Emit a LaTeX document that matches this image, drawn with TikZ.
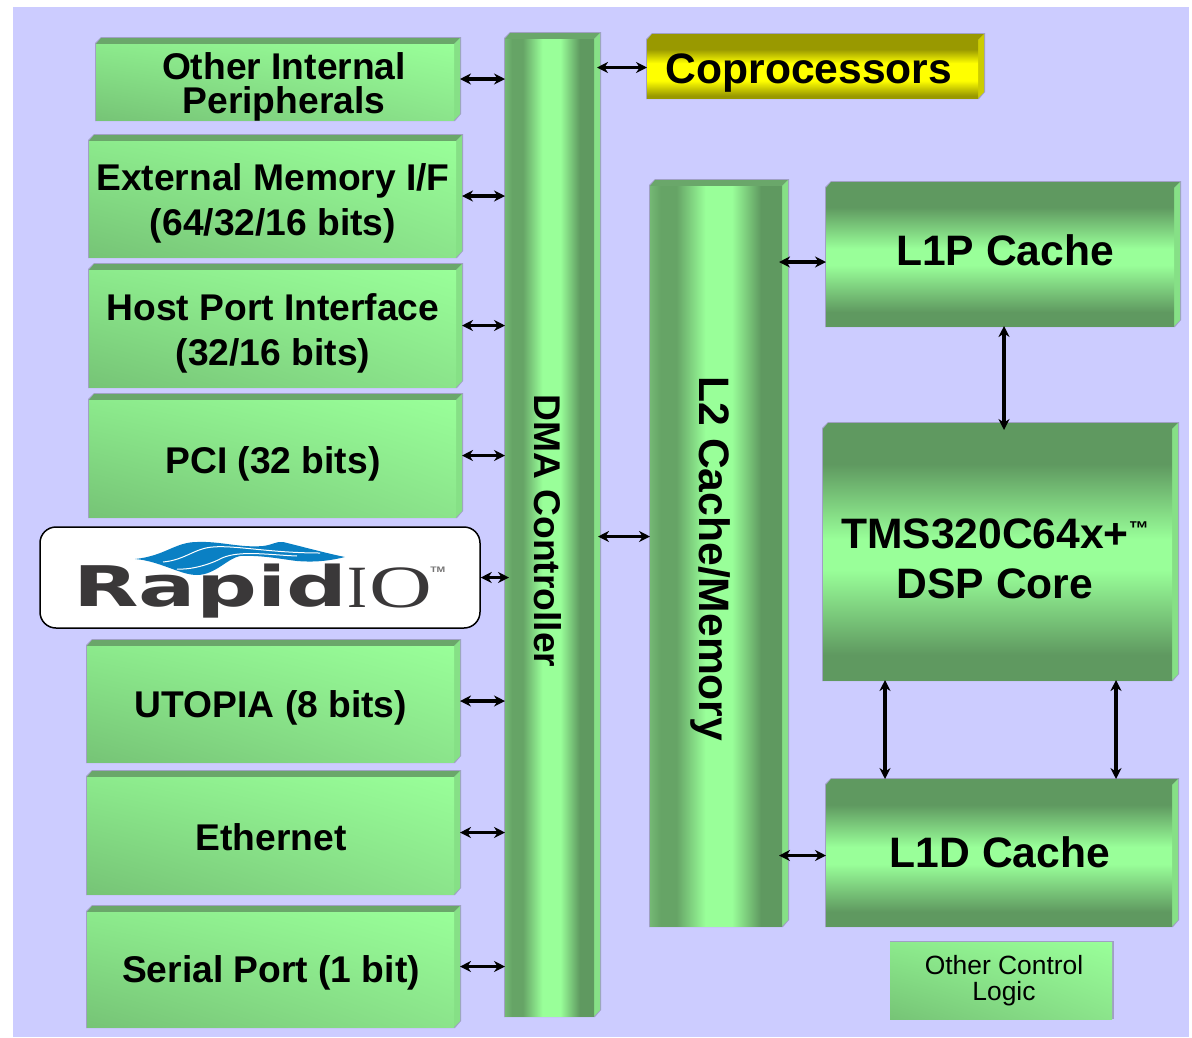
\documentclass[tikz,border=0pt]{standalone}
\usepackage{fontspec}
\setmainfont{Liberation Sans}
\newfontfamily\logosans{DejaVu Sans}
\newfontfamily\logoserif{Liberation Serif}
\usetikzlibrary{arrows.meta,fit,shadings}
\definecolor{bgc}{HTML}{CCCCFF}
\definecolor{gdk}{HTML}{5F9960}
\definecolor{glt}{HTML}{99FF99}
\definecolor{gedge}{HTML}{74B874}
\definecolor{gpdk}{HTML}{66A466}
\definecolor{gtop}{HTML}{6AA76A}
\definecolor{gside}{HTML}{86E086}
\definecolor{gll}{HTML}{76C476}
\definecolor{gul}{HTML}{8CEA8C}
\definecolor{glr}{HTML}{8BE48B}
\definecolor{ydk}{HTML}{999900}
\definecolor{ylt}{HTML}{FFFF00}
\definecolor{yside}{HTML}{CCCC00}
\definecolor{shadowc}{HTML}{A0A0C4}
\definecolor{rdark}{HTML}{3A3839}
\definecolor{rblue}{HTML}{0A80C4}
\pgfdeclareverticalshading{gband}{100bp}{color(0bp)=(gdk);color(30bp)=(gdk);color(47bp)=(glt);color(53bp)=(glt);color(68bp)=(gdk);color(100bp)=(gdk)}
\pgfdeclareverticalshading{yband}{100bp}{color(0bp)=(ydk);color(27bp)=(ydk);color(40bp)=(ylt);color(55bp)=(ylt);color(67bp)=(ydk);color(100bp)=(ydk)}
\pgfdeclarehorizontalshading{gpillar}{100bp}{color(0bp)=(gedge);color(25bp)=(gedge);color(29bp)=(gpdk);color(35bp)=(gpdk);color(46bp)=(glt);color(56bp)=(glt);color(67bp)=(gdk);color(75bp)=(gdk);color(100bp)=(gdk)}
\tikzset{
  flatface/.style={lower left=gll,upper right=glt,upper left=gul,lower right=glr},
  bandface/.style={shading=gband},
  pillarface/.style={shading=gpillar},
  yellowface/.style={shading=yband},
  boxanchor/.style={inner sep=0pt,outer sep=0pt},
  bigl/.style={font=\bfseries\fontsize{42.6}{50}\selectfont,align=center,text=black},
  midl/.style={font=\bfseries\fontsize{37.2}{45}\selectfont,align=center,text=black},
  dbl/.style={{Stealth[length=11pt,width=11pt]}-{Stealth[length=11pt,width=11pt]},line width=3.2pt,black},
}
% name, x0, y0, x1, y1, face style, top colour, side colour
\newcommand{\bevelbox}[8]{
  \fill[shadowc] (#2+5,#3-1) -- (#4+1,#3-1) -- (#4+1,#5-6) -- (#4-5,#5+1) -- (#2-1,#5+1) -- (#2-1,#3+5) -- cycle;
  \fill[#7] (#2+5,#3) -- (#4,#3) -- (#4-6,#3+6) -- (#2,#3+6) -- cycle;
  \fill[#8] (#4-6,#3+6) -- (#4,#3) -- (#4,#5-6) -- (#4-6,#5) -- cycle;
  \shade[#6] (#2,#3+6) rectangle (#4-6,#5);
  \coordinate (#1-a) at (#2,#3);
  \coordinate (#1-b) at (#4,#5);
  \node[boxanchor,fit=(#1-a)(#1-b)] (#1) {};
}
\begin{document}
\begin{tikzpicture}[x=1pt,y=-1pt]
\useasboundingbox (0,0) rectangle (1192,1037);
\fill[white] (0,0) rectangle (1192,1037);
\fill[bgc] (13,7) rectangle (1189,1037);

\bevelbox{othint}{96}{38}{460}{120}{flatface}{gtop}{gside}
\bevelbox{extmem}{89}{135}{462}{257}{flatface}{gtop}{gside}
\bevelbox{hostp}{89}{264}{462}{387}{flatface}{gtop}{gside}
\bevelbox{pci}{89}{394}{462}{517}{flatface}{gtop}{gside}
\bevelbox{utopia}{87}{640}{460}{762}{flatface}{gtop}{gside}
\bevelbox{ether}{87}{771}{460}{894}{flatface}{gtop}{gside}
\bevelbox{serial}{87}{906}{460}{1027}{flatface}{gtop}{gside}
\bevelbox{dma}{505}{33}{600}{1016}{pillarface}{gtop}{gside}
\bevelbox{ltwo}{650}{180}{788}{926}{pillarface}{gtop}{gside}
\bevelbox{copro}{647}{34}{984}{98}{yellowface}{ydk}{yside}
\bevelbox{lonep}{826}{182}{1180}{326}{bandface}{gdk}{gside}
\bevelbox{core}{823}{423}{1178}{680}{bandface}{gdk}{gside}
\bevelbox{loned}{826}{779}{1178}{926}{bandface}{gdk}{gside}

% Other control logic
\fill[shadowc] (890,941) rectangle (1114,1019);
\shade[flatface] (890,942) rectangle (1112,1019);
\coordinate (ctl-a) at (890,941);
\coordinate (ctl-b) at (1113,1019);
\node[boxanchor,fit=(ctl-a)(ctl-b)] (ctl) {};

% RapidIO
\node[draw=black,line width=1.5pt,fill=white,rounded corners=16pt,minimum width=440pt,minimum height=101pt,inner sep=0pt] (rapid) at (260,577.5) {};
\fill[rblue] (135,559) .. controls (165,556) and (175,542) .. (197,542)
  .. controls (220,541) and (240,548) .. (263,546)
  .. controls (272,545) and (277,541) .. (283,542)
  .. controls (300,546) and (325,553) .. (345,557)
  .. controls (325,562) and (310,562) .. (297,561)
  .. controls (280,559) and (262,555) .. (240,556)
  .. controls (228,558) and (215,575) .. (197,575)
  .. controls (180,575) and (160,561) .. (135,559) -- cycle;
\draw[white,line width=1pt] (163,562) .. controls (185,560) and (195,548) .. (213,547) .. controls (235,545) and (270,553) .. (320,553);
\draw[white,line width=1pt] (177,569) .. controls (195,570) and (215,562) .. (222,558) .. controls (240,550) and (270,555) .. (297,556);
\node[text=rdark,anchor=base west,inner sep=0pt,font=\logosans\bfseries\fontsize{56}{56}\selectfont,xscale=1.52] (rapidword) at (73,606.5) {Rapid};
\node[text=rdark,anchor=base west,inner sep=0pt,font=\logoserif\fontsize{60}{60}\selectfont] (rapidi) at (347,607) {I};
\node[text=rdark,anchor=base west,inner sep=0pt,font=\logoserif\fontsize{60}{60}\selectfont,xscale=1.45] (rapido) at (369,607) {O};
\node[text=rdark!70,anchor=base west,inner sep=0pt,font=\bfseries\fontsize{8}{8}\selectfont,xscale=1.3] (rapidtm) at (430,572) {TM};

% Labels
\node[midl,font=\bfseries\fontsize{37.2}{34}\selectfont] (lothint) at (284,87) {Other Internal\\Peripherals};
\node[midl] (lextmem) at (273,203) {External Memory I/F\\(64/32/16 bits)};
\node[midl] (lhostp) at (273,333) {Host Port Interface\\(32/16 bits)};
\node[midl] (lpci) at (273,464) {PCI (32 bits)};
\node[midl] (lutopia) at (271,708) {UTOPIA (8 bits)};
\node[midl] (lether) at (271,837) {Ethernet};
\node[midl] (lserial) at (271,973) {Serial Port (1 bit)};
\node[midl,rotate=-90] (ldma) at (548,531) {DMA Controller};
\node[bigl,rotate=-90] (lltwo) at (711,559) {L2 Cache/Memory};
\node[bigl] (lcopro) at (809,73) {Coprocessors};
\node[bigl] (llonep) at (1005,250) {L1P Cache};
\node[bigl] (lcore) at (995,559) {TMS320C64x+\raisebox{13pt}{\fontsize{20}{20}\selectfont ™}\\DSP Core};
\node[bigl] (lloned) at (1000,852) {L1D Cache};
\node[font=\fontsize{26.4}{26}\selectfont,align=center] (lctl) at (1004,981) {Other Control\\Logic};

% Connectors
\draw[dbl] (othint.east) -- (othint.east -| dma.west);
\draw[dbl] (extmem.east) -- (extmem.east -| dma.west);
\draw[dbl] (hostp.east) -- (hostp.east -| dma.west);
\draw[dbl] (pci.east) -- (pci.east -| dma.west);
\draw[dbl] (rapid.east) -- ([xshift=4pt]rapid.east -| dma.west);
\draw[dbl] (utopia.east) -- (utopia.east -| dma.west);
\draw[dbl] (ether.east) -- (ether.east -| dma.west);
\draw[dbl] (serial.east) -- (serial.east -| dma.west);
\draw[dbl] ([xshift=-3pt,yshift=-1.5pt]copro.west -| dma.east) -- ([yshift=-1.5pt]copro.west);
\draw[dbl] ([xshift=-2pt,yshift=-12pt]dma.east) -- ([yshift=-12pt]dma.east -| ltwo.west);
\draw[dbl] ([xshift=-9pt,yshift=-8pt]lonep.west -| ltwo.east) -- ([yshift=-8pt]lonep.west);
\draw[dbl] ([xshift=-9pt,yshift=-3pt]loned.west -| ltwo.east) -- ([yshift=-3pt]loned.west);
\draw[dbl] ([xshift=1pt]lonep.south) -- ([xshift=1pt,yshift=-7pt]lonep.south |- core.north);
\draw[dbl] ([xshift=-115.5pt]core.south) -- ([xshift=-115.5pt]core.south |- loned.north);
\draw[dbl] ([xshift=115.5pt]core.south) -- ([xshift=115.5pt]core.south |- loned.north);
\end{tikzpicture}
\end{document}
